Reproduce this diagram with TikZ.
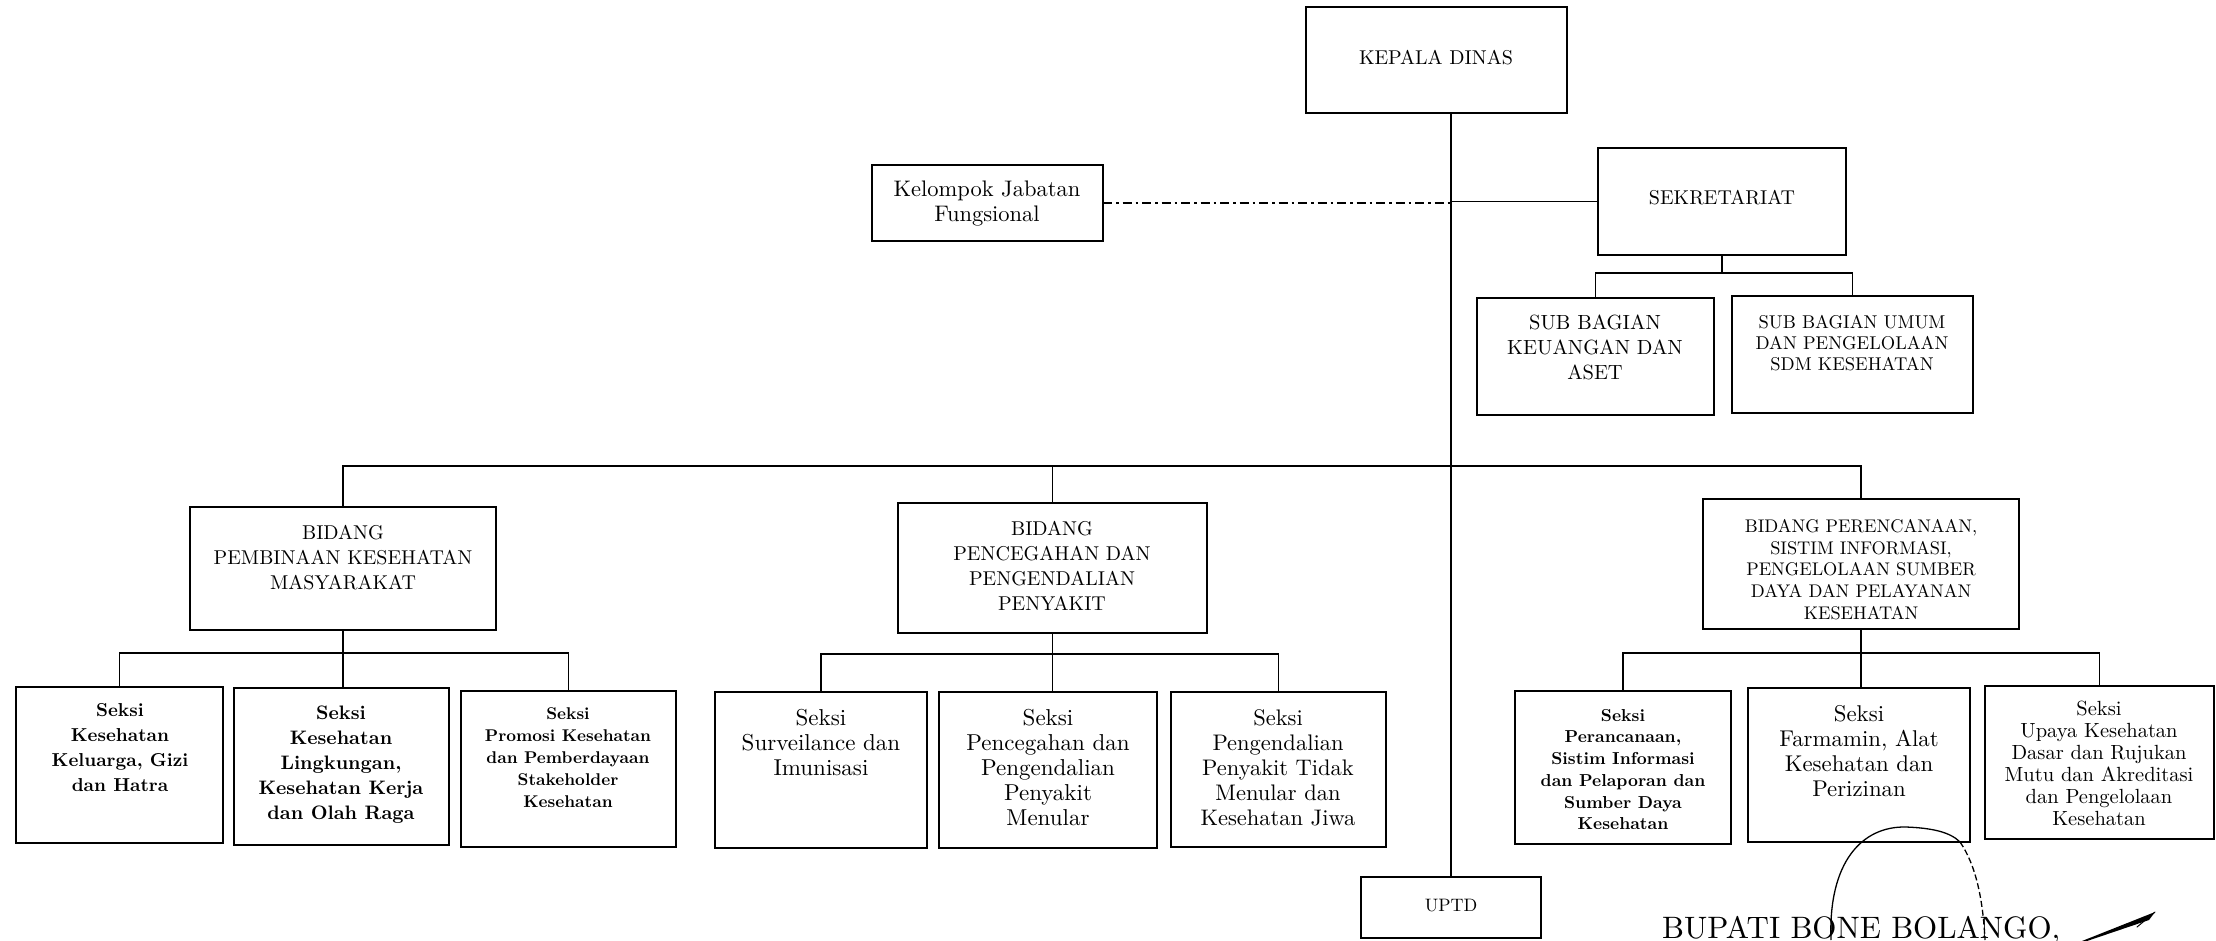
\documentclass[tikz,border=0pt]{standalone}
\usepackage{fontspec}
\setmainfont{lmroman10-regular.otf}[BoldFont=lmroman10-bold.otf, ItalicFont=lmroman10-italic.otf]
\tikzset{
  box/.style={draw, line width=2.2pt, inner sep=0pt, outer sep=0pt},
  conn/.style={line width=1.8pt},
  lbl/.style={align=center, inner sep=0pt, anchor=north},
  dashdot/.style={line width=1.8pt, dash pattern=on 9pt off 4pt on 2.5pt off 4pt},
  stamp/.style={line width=1.3pt},
}
\newcommand{\fs}[2]{\fontsize{#1}{#2}\selectfont}
\begin{document}
\begin{tikzpicture}[x=1pt,y=-1pt]
\useasboundingbox (0,0) rectangle (2216,940);

% ---------- boxes ----------
\node[box, minimum width=261pt, minimum height=106pt] (kd)  at (1436.5,60) {};
\node[box, minimum width=231pt, minimum height=76pt]  (kjf) at (987.5,203) {};
\node[box, minimum width=248pt, minimum height=107pt] (sek) at (1722,201.5) {};
\node[box, minimum width=237pt, minimum height=117pt] (sbk) at (1595.5,356.5) {};
\node[box, minimum width=241pt, minimum height=117pt] (sbu) at (1852.5,354.5) {};

\node[box, minimum width=306pt, minimum height=123pt] (b1) at (343,568.5) {};
\node[box, minimum width=309pt, minimum height=130pt] (b2) at (1052.5,568) {};
\node[box, minimum width=316pt, minimum height=130pt] (b3) at (1861,564) {};

\node[box, minimum width=207pt, minimum height=156pt] (s11) at (119.5,765) {};
\node[box, minimum width=215pt, minimum height=157pt] (s12) at (341.5,766.5) {};
\node[box, minimum width=215pt, minimum height=156pt] (s13) at (568.5,769) {};
\node[box, minimum width=212pt, minimum height=156pt] (s21) at (821,770) {};
\node[box, minimum width=218pt, minimum height=156pt] (s22) at (1048,770) {};
\node[box, minimum width=215pt, minimum height=155pt] (s23) at (1278.5,769.5) {};
\node[box, minimum width=216pt, minimum height=153pt] (s31) at (1623,767.5) {};
\node[box, minimum width=222pt, minimum height=154pt] (s32) at (1859,765) {};
\node[box, minimum width=229pt, minimum height=153pt] (s33) at (2099.5,762.5) {};

\node[box, minimum width=180pt, minimum height=61pt] (uptd) at (1451,907.5) {};

% ---------- connectors ----------
\coordinate (mj) at (1451,466);
\draw[conn] (uptd.north |- kd.south) -- (uptd.north);
\draw[dashdot] (kjf.east) -- (kjf.east -| mj);
\draw[conn] (sek.west -| mj) -- (sek.west);
\draw[conn] (b1.north) -- (b1.north |- mj) -- (b3.north |- mj) -- (b3.north);
\draw[conn] (b2.north |- mj) -- (b2.north);

\coordinate (ls) at (1722,273);
\draw[conn] (sek.south) -- (ls);
\draw[conn] (sbk.north) -- (sbk.north |- ls) -- (sbu.north |- ls) -- (sbu.north);

\coordinate (l1) at (343,653);
\draw[conn] (b1.south) -- (l1);
\draw[conn] (s11.north) -- (s11.north |- l1) -- (s13.north |- l1) -- (s13.north);
\draw[conn] (l1) -- (l1 |- s12.north);

\coordinate (l2) at (1052.5,654);
\draw[conn] (b2.south) -- (l2);
\draw[conn] (s21.north) -- (s21.north |- l2) -- (s23.north |- l2) -- (s23.north);
\draw[conn] (l2) -- (l2 |- s22.north);

\coordinate (l3) at (1861,653);
\draw[conn] (b3.south) -- (l3);
\draw[conn] (s31.north) -- (s31.north |- l3) -- (s33.north |- l3) -- (s33.north);
\draw[conn] (l3) -- (l3 |- s32.north);

% ---------- texts ----------
\node[lbl, font=\fs{20}{24}] (tkd) at (1436,50) {KEPALA DINAS};
\node[lbl, font=\fs{22.5}{25}] (tkjf) at (987,181) {Kelompok Jabatan\\Fungsional};
\node[lbl, font=\fs{20}{24}] (tsek) at (1722,190) {SEKRETARIAT};
\node[lbl, font=\fs{20.5}{25}] (tsbk) at (1595,315) {SUB BAGIAN\\KEUANGAN DAN\\ASET};
\node[lbl, font=\fs{18.5}{21}] (tsbu) at (1852,315) {SUB BAGIAN UMUM\\DAN PENGELOLAAN\\SDM KESEHATAN};
\node[lbl, font=\fs{20}{25}] (tb1) at (343,525) {BIDANG\\PEMBINAAN KESEHATAN\\MASYARAKAT};
\node[lbl, font=\fs{20}{25}] (tb2) at (1052,521) {BIDANG\\PENCEGAHAN DAN\\PENGENDALIAN\\PENYAKIT};
\node[lbl, font=\fs{18.3}{21.7}] (tb3) at (1861,519) {BIDANG PERENCANAAN,\\SISTIM INFORMASI,\\PENGELOLAAN SUMBER\\DAYA DAN PELAYANAN\\KESEHATAN};
\node[lbl, font=\bfseries\fs{18.7}{25}] (ts11) at (120,703) {Seksi\\Kesehatan\\Keluarga, Gizi\\dan Hatra};
\node[lbl, font=\bfseries\fs{19.5}{25}] (ts12) at (341,706) {Seksi\\Kesehatan\\Lingkungan,\\Kesehatan Kerja\\dan Olah Raga};
\node[lbl, font=\bfseries\fs{17}{22}] (ts13) at (568,707) {Seksi\\Promosi Kesehatan\\dan Pemberdayaan\\Stakeholder\\Kesehatan};
\node[lbl, font=\fs{23}{25}] (ts21) at (821,709) {Seksi\\Surveilance dan\\Imunisasi};
\node[lbl, font=\fs{23}{25}] (ts22) at (1048,709) {Seksi\\Pencegahan dan\\Pengendalian\\Penyakit\\Menular};
\node[lbl, font=\fs{22.5}{25}] (ts23) at (1278,709) {Seksi\\Pengendalian\\Penyakit Tidak\\Menular dan\\Kesehatan Jiwa};
\node[lbl, font=\bfseries\fs{17.3}{21.7}] (ts31) at (1623,709) {Seksi\\Perancanaan,\\Sistim Informasi\\dan Pelaporan dan\\Sumber Daya\\Kesehatan};
\node[lbl, font=\fs{22.8}{25}] (ts32) at (1859,705) {Seksi\\Farmamin, Alat\\Kesehatan dan\\Perizinan};
\node[lbl, font=\fs{20.5}{22}] (ts33) at (2099,701) {Seksi\\Upaya Kesehatan\\Dasar dan Rujukan\\Mutu dan Akreditasi\\dan Pengelolaan\\Kesehatan};
\node[lbl, font=\fs{18}{22}] (tuptd) at (1451,899) {UPTD};

% ---------- signature area ----------
\node[anchor=base west, inner sep=0pt, font=\fs{31}{36}] (bupati) at (1662,938) {BUPATI BONE BOLANGO,};
\draw[stamp] (1831,940) .. controls (1828,862) and (1862,826) .. (1906,827)
             .. controls (1932,828) and (1950,832) .. (1960,842);
\draw[stamp, dash pattern=on 6pt off 3pt] (1960,842) .. controls (1976,865) and (1983,900) .. (1985,940);
\fill (2082,941) -- (2155,912) -- (2149,920) -- (2087,941) -- cycle;
\draw[line width=1pt, line cap=round] (2155,912) -- (2137,927);
\end{tikzpicture}
\end{document}
